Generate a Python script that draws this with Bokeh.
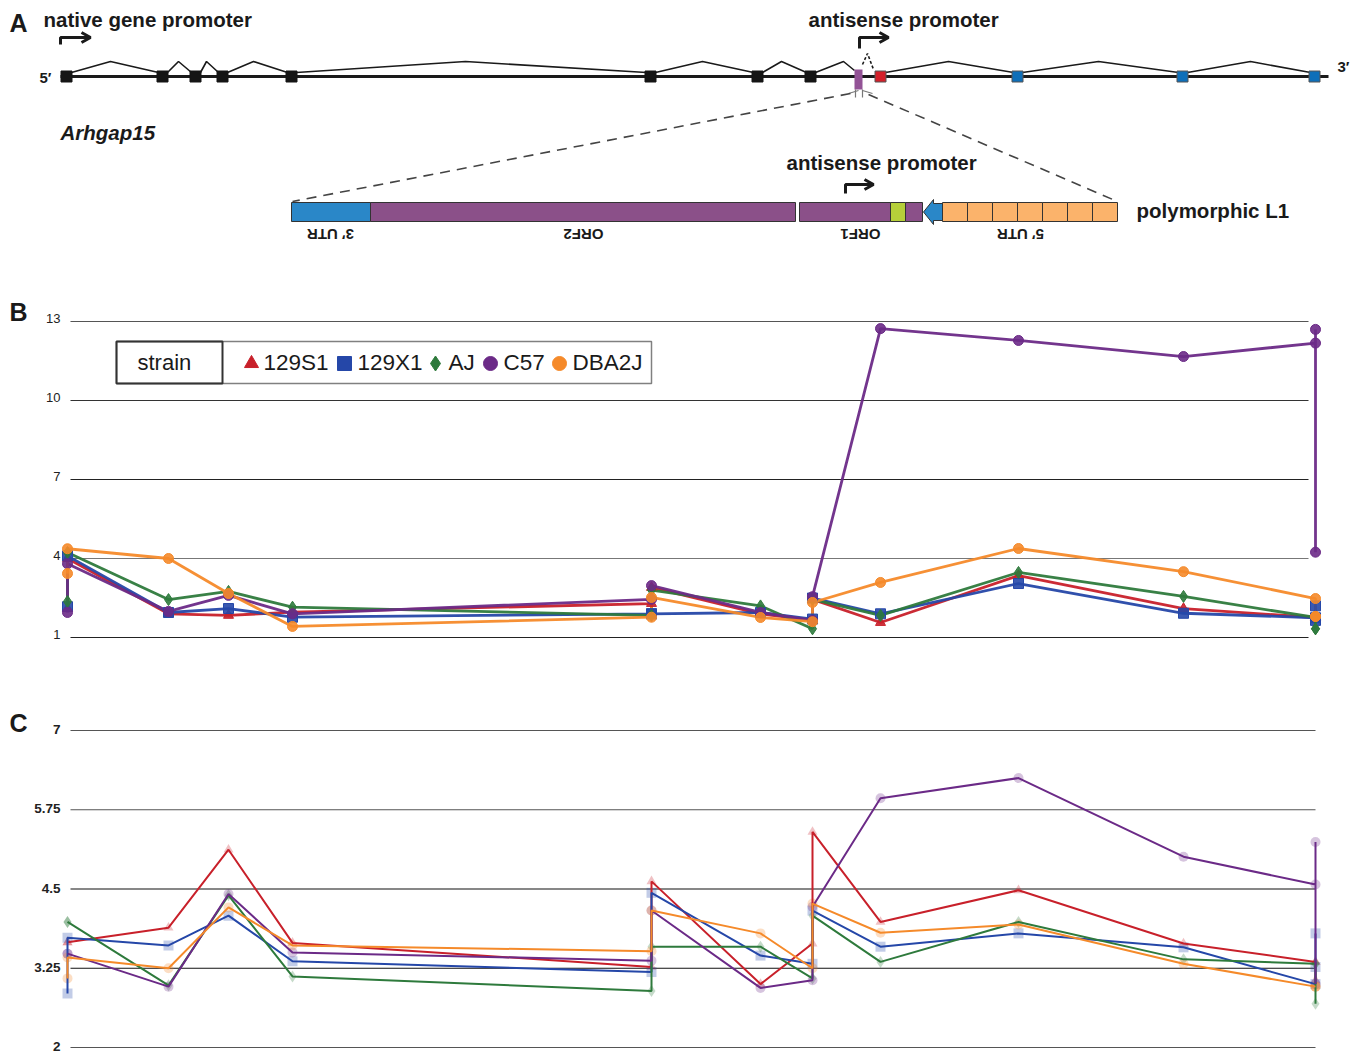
from bokeh.plotting import figure
from bokeh.layouts import column
from bokeh.models import Range1d
from bokeh.core.properties import value
from bokeh.embed import file_html
from bokeh.resources import INLINE

# ---------------- data ----------------
strains = ["129S1", "129X1", "AJ", "C57", "DBA2J"]
colors = ["#c8202a", "#2547a8", "#2e7a3c", "#6b2a87", "#f58a2a"]
markers = ["triangle", "square", "diamond", "circle", "circle"]

# gene model (positions along the gene, drawn in figure units)
upstream_exons = [66, 162, 195, 222, 291, 650, 757, 810]
l1_insert = 858
antisense_exon = 880
downstream_exons = [1017, 1182, 1314]
intron_spans = [(66, 162, 110), (162, 195, 178), (195, 222, 206), (222, 291, 253),
                (291, 650, 465), (650, 757, 702), (757, 810, 781), (810, 858, 843),
                (880, 1017, 948), (1017, 1182, 1098), (1182, 1314, 1250)]

# L1 element segments (left, right, colour-key)
l1_segments = [(291, 370, "utr3"), (370, 795, "orf"), (799, 890, "orf"),
               (890, 905, "prom"), (905, 922, "orf")]
utr5_left, utr5_right, utr5_cells = 942, 1117, 7
l1_labels = ["3′ UTR", "ORF2", "ORF1", "5′ UTR"]
l1_label_x = [330, 583, 860, 1020]

# probe positions along the gene
probe_pos = [67, 67, 168, 228, 292, 651, 651, 760, 812, 812, 880, 1018, 1183, 1315, 1315, 1315]

# panel B values
b_ticks = [1, 4, 7, 10, 13]
b_vals = {
    "129S1": [2.10, 4.00, 1.90, 1.84, 1.96, 2.29, 2.90, 1.90, 1.65, 2.45, 1.57, 3.35, 2.10, 1.76, 1.76, 1.70],
    "129X1": [2.17, 4.10, 1.95, 2.10, 1.77, 1.90, 1.90, 1.95, 1.70, 2.50, 1.90, 3.05, 1.92, 1.75, 2.20, 1.65],
    "AJ":    [2.37, 4.23, 2.44, 2.75, 2.15, 1.84, 2.80, 2.20, 1.33, 2.45, 1.84, 3.47, 2.56, 1.76, 1.33, 1.33],
    "C57":   [1.95, 3.80, 1.99, 2.60, 1.90, 2.45, 2.97, 1.95, 1.65, 2.55, 12.73, 12.28, 11.67, 12.18, 12.70, 4.24],
    "DBA2J": [3.43, 4.37, 4.00, 2.67, 1.42, 1.77, 2.52, 1.76, 1.60, 2.33, 3.09, 4.38, 3.50, 2.48, 1.80, 1.80],
}

# panel C values
c_ticks = [2, 3.25, 4.5, 5.75, 7]
c_tick_labels = ["2", "3.25", "4.5", "5.75", "7"]
c_vals = {
    "129S1": [3.66, 3.66, 3.89, 5.12, 3.65, 3.27, 4.62, 3.00, 3.64, 5.40, 3.98, 4.48, 3.64, 3.35, 3.35, 3.06],
    "129X1": [2.85, 3.73, 3.61, 4.08, 3.36, 3.19, 4.44, 3.45, 3.32, 4.16, 3.59, 3.80, 3.58, 3.00, 3.80, 3.27],
    "AJ":    [3.98, 3.98, 2.98, 4.40, 3.12, 2.89, 3.59, 3.59, 3.09, 4.08, 3.35, 3.98, 3.39, 3.32, 3.32, 2.69],
    "C57":   [3.48, 3.48, 2.96, 4.42, 3.50, 3.37, 4.16, 2.94, 3.06, 4.22, 5.93, 6.25, 5.01, 4.57, 5.24, 3.00],
    "DBA2J": [3.09, 3.42, 3.25, 4.21, 3.61, 3.52, 4.16, 3.80, 3.25, 4.27, 3.81, 3.94, 3.32, 2.96, 2.96, 2.96],
}

# ---------------- style ----------------
FONT = value("Liberation Sans")
W = 1363
XR = (0, 1363)
PURPLE_L1 = "#8b5089"
seg_fill = {"utr3": "#2a87c8", "orf": PURPLE_L1, "prom": "#b6cf3a"}


def base_fig(h, y_range):
    p = figure(width=W, height=h, x_range=Range1d(*XR), y_range=y_range,
               output_backend="svg", toolbar_location=None,
               x_axis_type=None, y_axis_type=None, min_border=0)
    p.outline_line_color = None
    p.background_fill_color = "white"
    p.border_fill_color = "white"
    return p


def txt(p, x, y, t, size, style="bold", align="left", baseline="middle", angle=0, color="#1a1a1a", font=FONT):
    p.text(x=[x], y=[y], text=[t], text_font=font, text_font_size=size,
           text_font_style=style, text_align=align, text_baseline=baseline,
           angle=angle, text_color=color)


# ================= Panel A =================
GENE_Y = 76
A_H = 286
pA = base_fig(A_H, Range1d(A_H, 0))

txt(pA, 9, 22, "A", "25px")
txt(pA, 43, 19, "native gene promoter", "20.5px")
txt(pA, 808, 19, "antisense promoter", "20.5px")
txt(pA, 786, 162, "antisense promoter", "20.5px")
txt(pA, 60, 132, "Arhgap15", "20.5px", style="bold italic")
txt(pA, 1136, 210, "polymorphic L1", "20.5px")
txt(pA, 39, 77, "5′", "15px")
txt(pA, 1337, 66, "3′", "15px")

# bent promoter arrows
def bent_arrow(p, x, y_base, y_top, x_end):
    p.line([x, x, x_end], [y_base, y_top, y_top], line_width=3, color="#1a1a1a")
    p.line([x_end - 9, x_end, x_end - 9], [y_top - 5, y_top, y_top + 5], line_width=3, color="#1a1a1a")

bent_arrow(pA, 60, 44, 37, 90)
bent_arrow(pA, 859, 48, 37, 888)
bent_arrow(pA, 845, 193, 184, 873)

# introns
ixs, iys = [], []
for a, b, pk in intron_spans:
    end_y = 70 if b == l1_insert else 72
    ixs.append([a + 5, pk, b - 4])
    iys.append([72, 61, end_y])
pA.multi_line(ixs, iys, line_width=1.6, color="#1a1a1a")

# gene backbone
pA.line([60, 1328], [GENE_Y, GENE_Y], line_width=3.2, color="#1a1a1a")

# exons
pA.rect(x=upstream_exons, y=GENE_Y, width=11, height=11, fill_color="#151515", line_color="#151515")
pA.rect(x=[antisense_exon], y=GENE_Y, width=11, height=11, fill_color="#d3202a", line_color="#555555")
pA.rect(x=downstream_exons, y=GENE_Y, width=11, height=11, fill_color="#0e6fb9", line_color="#555555")
pA.rect(x=[l1_insert], y=GENE_Y + 3, width=8, height=20, fill_color="#935396", line_color=None)

# antisense transcript dashes
pA.line([862, 867, 873], [64, 53, 69], line_width=1.6, line_dash="3 2", color="#1a1a1a")
# zoom lines
pA.multi_line([[855, 855], [862, 862], [848, 858], [862, 872]],
              [[89, 97], [89, 97], [93, 90], [90, 93]], line_width=1.2, color="#777777")
pA.line([850, 292], [93, 201], line_width=1.6, line_dash="10 7", color="#444444")
pA.line([868, 1117], [94, 201], line_width=1.6, line_dash="10 7", color="#444444")

# L1 bar
BAR_T, BAR_B = 202, 221
pA.quad(left=[s[0] for s in l1_segments], right=[s[1] for s in l1_segments],
        top=BAR_T, bottom=BAR_B, fill_color=[seg_fill[s[2]] for s in l1_segments],
        line_color="#333333", line_width=1)
cw = (utr5_right - utr5_left) / utr5_cells
pA.quad(left=[utr5_left + i * cw for i in range(utr5_cells)],
        right=[utr5_left + (i + 1) * cw for i in range(utr5_cells)],
        top=BAR_T, bottom=BAR_B, fill_color="#fbb36b", line_color="#333333", line_width=1)
pA.patch([923, 933, 933, 942, 942, 933, 933], [211.5, 199, 203, 203, 220, 220, 224],
         fill_color="#2a87c8", line_color="#333333", line_width=1)
for lx, lt in zip(l1_label_x, l1_labels):
    txt(pA, lx, 234, lt, "15px", align="center", angle=3.14159265)

# ================= Panel B =================
B_REF_V, B_REF_PX, B_PPU = 1.0, 637.0, 79.0 / 3.0
B_TOP, B_BOT = A_H, 660
def bv(py):
    return B_REF_V + (B_REF_PX - py) / B_PPU

pB = base_fig(B_BOT - B_TOP, Range1d(bv(B_BOT), bv(B_TOP)))
txt(pB, 9, bv(311), "B", "25px")
b_grid_col = ["#222222", "#777777", "#222222", "#333333", "#555555"]
pB.segment(x0=70, x1=1308, y0=b_ticks, y1=b_ticks, line_color=b_grid_col, line_width=1.2)
pB.text(x=60, y=b_ticks, text=[str(t) for t in b_ticks], text_font=FONT, text_font_size="13px",
        text_align="right", text_baseline="middle", y_offset=-3, text_color="#222222")

for s, c, m in zip(strains, colors, markers):
    pB.line(probe_pos, b_vals[s], line_color=c, line_width=2.8, line_alpha=0.95)
for s, c, m in zip(strains, colors, markers):
    pB.scatter(probe_pos, b_vals[s], marker=m, size=10 if m != "diamond" else 12,
               fill_color=c, line_color=c, fill_alpha=0.9)

# legend
pB.quad(left=[116], right=[651], top=[bv(341)], bottom=[bv(383)], fill_color="white",
        line_color="#808080", line_width=1.5)
pB.quad(left=[116], right=[222], top=[bv(341)], bottom=[bv(383)], fill_color=None,
        line_color="#333333", line_width=2)
txt(pB, 137, bv(362), "strain", "22px", style="normal")
leg_mx = [251, 344, 435, 490, 559]
leg_tx = [263, 357, 448, 503, 572]
for s, c, m, mx, tx in zip(strains, colors, markers, leg_mx, leg_tx):
    pB.scatter([mx], [bv(363)], marker=m, size=14 if m != "diamond" else 15,
               fill_color=c, line_color=c)
    txt(pB, tx, bv(362), s, "22.5px", style="normal")

# ================= Panel C =================
C_REF_V, C_REF_PX, C_PPU = 2.0, 1047.0, 317.0 / 5.0
C_TOP, C_BOT = 660, 1056
def cv(py):
    return C_REF_V + (C_REF_PX - py) / C_PPU

pC = base_fig(C_BOT - C_TOP, Range1d(cv(C_BOT), cv(C_TOP)))
txt(pC, 9, cv(722), "C", "25px")
c_grid_col = ["#555555", "#111111", "#111111", "#555555", "#555555"]
pC.segment(x0=70, x1=1315, y0=c_ticks, y1=c_ticks, line_color=c_grid_col, line_width=1.2)
pC.text(x=60, y=c_ticks, text=c_tick_labels, text_font=FONT, text_font_size="13.5px",
        text_font_style="bold", text_align="right", text_baseline="middle", y_offset=-1,
        text_color="#222222")
for s, c, m in zip(strains, colors, markers):
    pC.scatter(probe_pos, c_vals[s], marker=m, size=10 if m != "diamond" else 12,
               fill_color=c, line_color=None, fill_alpha=0.28)
for s, c, m in zip(strains, colors, markers):
    pC.line(probe_pos, c_vals[s], line_color=c, line_width=2)

layout = column(pA, pB, pC, spacing=0)
open("out.html", "w").write(file_html(layout, INLINE))
